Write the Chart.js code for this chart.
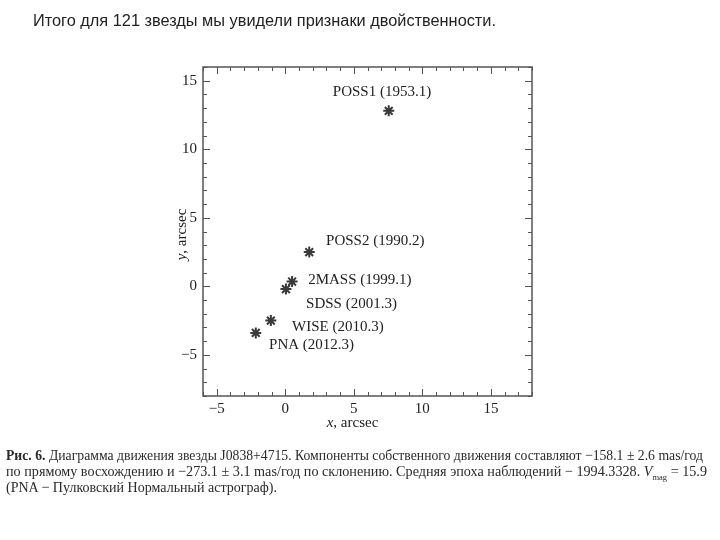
<!DOCTYPE html>
<html>
<head>
<meta charset="utf-8">
<script src="https://cdn.jsdelivr.net/npm/chart.js@4/dist/chart.umd.min.js"></script>
<style>
  html, body { margin: 0; padding: 0; background: #fff; }
  #wrap { position: relative; width: 720px; height: 540px; overflow: hidden; }
  #c { position: absolute; left: 0; top: 0; }
  .txt { position: absolute; white-space: nowrap; transform-origin: 0 50%; }
  #head { left: 33px; top: 12px; font: 16px "Liberation Sans", Arial, sans-serif; color: #222; }
  .cap { left: 6px; font: 15px "Liberation Serif", "Times New Roman", serif; color: #2a2a2a; line-height: 16px; }
  .cap b { font-weight: bold; }
</style>
</head>
<body>
<div id="wrap">
  <canvas id="c" width="720" height="540"></canvas>
  <div id="head" class="txt">Итого для 121 звезды мы увидели признаки двойственности.</div>
  <div id="cap1" class="txt cap" style="top:447px"><b>Рис. 6.</b> Диаграмма движения звезды J0838+4715. Компоненты собственного движения составляют −158.1 ± 2.6 mas/год</div>
  <div id="cap2" class="txt cap" style="top:463px">по прямому восхождению и −273.1 ± 3.1 mas/год по склонению. Средняя эпоха наблюдений − 1994.3328. <i>V</i><sub style="font-size:9px">mag</sub> = 15.9</div>
  <div id="cap3" class="txt cap" style="top:479px">(PNA − Пулковский Нормальный астрограф).</div>
</div>
<script>
// ---- data ----
const epochLabels = ["POSS1 (1953.1)", "POSS2 (1990.2)", "2MASS (1999.1)", "SDSS (2001.3)", "WISE (2010.3)", "PNA (2012.3)"];
const xValues = [7.55, 1.75, 0.5, 0.05, -1.05, -2.15];
const yValues = [12.8, 2.5, 0.35, -0.2, -2.5, -3.4];
const xTicks = [-5, 0, 5, 10, 15];
const yTicks = [-5, 0, 5, 10, 15];

// label anchors in data units (x = left edge or centre, y = text middle)
const labelAnchors = [
  {x: 7.06, y: 14.17, align: 'center'},
  {x: 2.98, y: 3.30, align: 'left'},
  {x: 1.67, y: 0.46, align: 'left'},
  {x: 1.52, y: -1.29, align: 'left'},
  {x: 0.50, y: -2.97, align: 'left'},
  {x: -1.18, y: -4.28, align: 'left'}
];

const SERIF = '"Liberation Serif", "Times New Roman", serif';
const AX = '#555';

const fmt = v => String(v).replace('-', '\u2212');

const framePlugin = {
  id: 'frame',
  afterDraw(chart) {
    const ctx = chart.ctx;
    const a = chart.chartArea;
    const xs = chart.scales.x, ys = chart.scales.y;
    ctx.save();
    // box
    ctx.strokeStyle = AX;
    ctx.lineWidth = 1.5;
    ctx.strokeRect(a.left, a.top, a.right - a.left, a.bottom - a.top);
    // inward ticks
    ctx.lineWidth = 1;
    ctx.beginPath();
    for (let v = Math.ceil(xs.min); v <= xs.max; v++) {
      const len = (v % 5 === 0) ? 7 : 4;
      const px = Math.round(xs.getPixelForValue(v)) + 0.5;
      ctx.moveTo(px, a.bottom); ctx.lineTo(px, a.bottom - len);
      ctx.moveTo(px, a.top); ctx.lineTo(px, a.top + len);
    }
    for (let v = Math.ceil(ys.min); v <= ys.max; v++) {
      const len = (v % 5 === 0) ? 7 : 4;
      const py = Math.round(ys.getPixelForValue(v)) + 0.5;
      ctx.moveTo(a.left, py); ctx.lineTo(a.left + len, py);
      ctx.moveTo(a.right, py); ctx.lineTo(a.right - len, py);
    }
    ctx.stroke();

    // axis titles
    ctx.fillStyle = '#222';
    ctx.textBaseline = 'middle';
    const drawTitle = (cx, cy, rot) => {
      ctx.save();
      ctx.translate(cx, cy);
      if (rot) ctx.rotate(-Math.PI / 2);
      ctx.font = 'italic 15px ' + SERIF;
      const w1 = ctx.measureText(rot ? 'y' : 'x').width;
      ctx.font = '15px ' + SERIF;
      const w2 = ctx.measureText(', arcsec').width;
      const start = -(w1 + w2) / 2;
      ctx.textAlign = 'left';
      ctx.font = 'italic 15px ' + SERIF;
      ctx.fillText(rot ? 'y' : 'x', start, 0);
      ctx.font = '15px ' + SERIF;
      ctx.fillText(', arcsec', start + w1, 0);
      ctx.restore();
    };
    drawTitle((a.left + a.right) / 2 - 15, a.bottom + 27, false);
    drawTitle(a.left - 21, (a.top + a.bottom) / 2 + 3, true);

    // point labels
    ctx.font = '15px ' + SERIF;
    ctx.fillStyle = '#222';
    epochLabels.forEach((t, i) => {
      const an = labelAnchors[i];
      ctx.textAlign = an.align;
      ctx.fillText(t, xs.getPixelForValue(an.x), ys.getPixelForValue(an.y));
    });
    ctx.restore();
  }
};

const points = xValues.map((x, i) => ({x: x, y: yValues[i]}));

new Chart(document.getElementById('c'), {
  type: 'scatter',
  data: {
    datasets: [{
      data: points,
      pointStyle: 'star',
      pointRadius: 5.5,
      pointHoverRadius: 5.5,
      borderWidth: 2,
      borderColor: '#3a3a3a',
      backgroundColor: '#3a3a3a'
    }]
  },
  options: {
    responsive: false,
    animation: false,
    devicePixelRatio: 1,
    layout: { padding: { top: 67, right: 188, left: 0, bottom: 0 } },
    plugins: { legend: { display: false }, tooltip: { enabled: false } },
    scales: {
      x: {
        type: 'linear', min: -6, max: 18,
        grid: { display: false, drawTicks: false, tickLength: 0 },
        border: { display: false },
        afterBuildTicks: s => { s.ticks = xTicks.map(v => ({value: v})); },
        afterFit: s => { s.height = 144; },
        ticks: { padding: 4, color: '#222', font: { family: SERIF, size: 15 }, maxRotation: 0, autoSkip: false, callback: v => fmt(v) }
      },
      y: {
        type: 'linear', min: -8, max: 16,
        grid: { display: false, drawTicks: false, tickLength: 0 },
        border: { display: false },
        afterBuildTicks: s => { s.ticks = yTicks.map(v => ({value: v})); },
        afterFit: s => { s.width = 203; },
        ticks: { padding: 6, color: '#222', font: { family: SERIF, size: 15 }, autoSkip: false, callback: v => fmt(v) }
      }
    }
  },
  plugins: [framePlugin]
});

// fit text lines to the reference widths
function fit(id, w) {
  const el = document.getElementById(id);
  const cw = el.getBoundingClientRect().width;
  if (cw > 0) el.style.transform = 'scaleX(' + (w / cw) + ')';
}
fit('head', 463);
fit('cap1', 697);
fit('cap2', 701);
fit('cap3', 271);
</script>
</body>
</html>
